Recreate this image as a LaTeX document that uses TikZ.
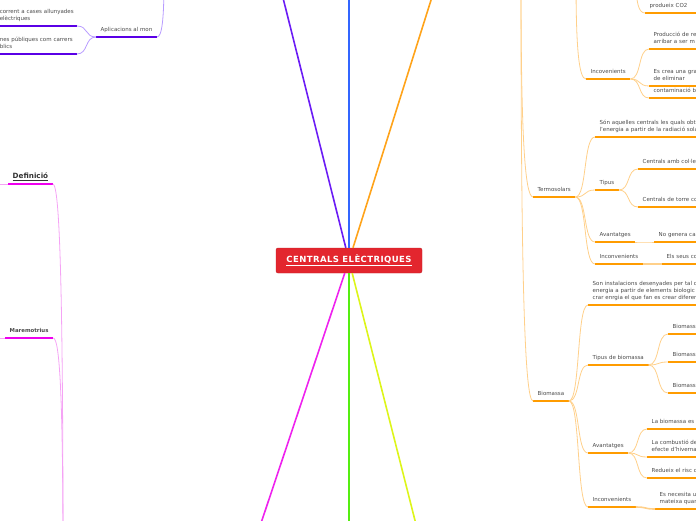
\documentclass[tikz,border=0pt]{standalone}
\usepackage{fontspec}
\setmainfont{DejaVu Sans}
\usetikzlibrary{calc}

\definecolor{txt}{HTML}{4A4A4A}
\definecolor{redc}{HTML}{E3262E}
\definecolor{vio}{HTML}{6B1CF5}
\definecolor{vioL}{HTML}{B89CFF}
\definecolor{vioB}{HTML}{5A00E6}
\definecolor{blu}{HTML}{3366FF}
\definecolor{ora}{HTML}{FFA31A}
\definecolor{oraL}{HTML}{FFD08A}
\definecolor{oraB}{HTML}{FF9C00}
\definecolor{mag}{HTML}{EE22EE}
\definecolor{magL}{HTML}{F5A3F5}
\definecolor{magB}{HTML}{EE00EE}
\definecolor{grn}{HTML}{55EE11}
\definecolor{ylw}{HTML}{DDF51A}

\begin{document}
\begin{tikzpicture}[x=1pt, y=-1pt,
    every node/.style={font=\fontsize{5.5}{7}\selectfont, text=txt},
    topic/.style={anchor=south west, inner xsep=4.5pt, inner ysep=5pt, text depth=0pt,
        append after command={(\tikzlastnode.south west) edge[draw=#1, line width=2.2pt] (\tikzlastnode.south east)}},
    leaf/.style={topic=#1, text depth={}, inner ysep=3pt, text width=200pt, align=left, execute at end node={\strut}},
    lleaf/.style={leaf=#1, anchor=south east, text width=76pt, inner xsep=1pt},
    main/.style={draw=#1, line width=1.6pt},
    branch/.style={draw=#1, line width=0.8pt,
        to path={.. controls ($(\tikztostart)!0.6!(\tikztotarget|-\tikztostart)$) and ($(\tikztotarget)!0.6!(\tikztostart|-\tikztotarget)$) .. (\tikztotarget)}},
    stem/.style={draw=#1, line width=0.8pt,
        to path={.. controls ($(\tikztostart)!0.7!(\tikztostart|-\tikztotarget)$) and ($(\tikztotarget)!0.7!(\tikztostart|-\tikztotarget)$) .. (\tikztotarget)}}]

    \useasboundingbox (0,0) rectangle (696,520);
    \clip (0,0) rectangle (696,520);

    % Centre
    \node[draw=redc!85!black, fill=redc, rounded corners=2pt, minimum width=146pt, minimum height=25pt,
        text=white, font=\fontsize{8.5}{10}\selectfont\bfseries\addfontfeature{LetterSpace=5}]
        (ce) at (349,260.5) {\underline{CENTRALS ELÈCTRIQUES}};

    % Main branches (hubs lie outside the picture)
    \coordinate (hvio) at (276,-30);
    \coordinate (hblu) at (349,-30);
    \coordinate (hora) at (440.5,-30);
    \coordinate (hmag) at (252,550);
    \coordinate (hgrn) at (349,550);
    \coordinate (hylw) at (422.5,550);
    \draw[main=vio] (ce) -- (hvio);
    \draw[main=blu] (ce) -- (hblu);
    \draw[main=ora] (ce) -- (hora);
    \draw[main=mag] (ce) -- (hmag);
    \draw[main=grn] (ce) -- (hgrn);
    \draw[main=ylw] (ce) -- (hylw);

    % Violet: aplicacions
    \node[topic=vioB] (apl) at (96,37) {Aplicacions al mon};
    \node[lleaf=vioB] (apl1) at (77,26) {corrent a cases allunyades\\elèctriques};
    \node[lleaf=vioB] (apl2) at (77,54) {nes públiques com carrers\\blics};
    \coordinate (hapl) at (164,-20);
    \draw[stem=vioL] (hapl) to (apl.south east);
    \draw[branch=vioL] (apl.south west) to (apl1.south east);
    \draw[branch=vioL] (apl.south west) to (apl2.south east);

    % Magenta: definicio, maremotrius
    \node[topic=magB, font=\fontsize{7.2}{8}\selectfont\bfseries, text=black!80] (def) at (8,184) {\underline{Definició}};
    \node[topic=magB, font=\fontsize{5.4}{7}\selectfont\bfseries] (mare) at (5,338) {Maremotrius};
    \coordinate (hdef) at (63,560);
    \coordinate (defl) at (-10,184);
    \coordinate (marel) at (-10,338);
    \draw[stem=magL] (hdef) to (def.south east);
    \draw[stem=magL] (hdef) to (mare.south east);
    \draw[magL, line width=0.8pt] (def.south west) -- (defl);
    \draw[magL, line width=0.8pt] (mare.south west) -- (marel);

    % Orange: top part
    \node[leaf=oraB] (avt1) at (645,13) {No afavoreixen\\produeix CO2};
    \node[topic=oraB] (inc) at (586,79) {Incovenients};
    \node[leaf=oraB] (inc1) at (649,49) {Producció de re\\arribar a ser m};
    \node[leaf=oraB] (inc2) at (649,86) {Es crea una gra\\de eliminar};
    \node[leaf=oraB] (inc3) at (649,98) {contaminació bi};
    \coordinate (havt) at (636,-20);
    \coordinate (hinc) at (576,-20);
    \draw[stem=oraL] (havt) to (avt1.south west);
    \draw[stem=oraL] (hinc) to (inc.south west);
    \draw[branch=oraL] (inc.south east) to (inc1.south west);
    \draw[branch=oraL] (inc.south east) to (inc2.south west);
    \draw[branch=oraL] (inc.south east) to (inc3.south west);

    % Orange: termosolars
    \node[topic=oraB] (tsol) at (533,197) {Termosolars};
    \node[leaf=oraB] (tsdef) at (595,137) {Són aquelles centrals les quals obte\\l'energia a partir de la radiació sola};
    \node[topic=oraB] (tstip) at (595,190) {Tipus};
    \node[leaf=oraB] (tscol) at (638,169) {Centrals amb col·le};
    \node[leaf=oraB] (tstor) at (638,207) {Centrals de torre co};
    \node[topic=oraB] (tsav) at (595,242) {Avantatges};
    \node[leaf=oraB] (tsav1) at (654,242) {No genera cap};
    \node[topic=oraB] (tsinc) at (595,264) {Inconvenients};
    \node[leaf=oraB] (tsinc1) at (662,264) {Els seus co};
    \draw[branch=oraL] (tsol.south east) to (tsdef.south west);
    \draw[branch=oraL] (tsol.south east) to (tstip.south west);
    \draw[branch=oraL] (tsol.south east) to (tsav.south west);
    \draw[branch=oraL] (tsol.south east) to (tsinc.south west);
    \draw[branch=oraL] (tstip.south east) to (tscol.south west);
    \draw[branch=oraL] (tstip.south east) to (tstor.south west);
    \draw[branch=oraL] (tsav.south east) to (tsav1.south west);
    \draw[branch=oraL, line width=1.6pt] (tsinc.south east) to (tsinc1.south west);

    % Orange: biomassa
    \node[topic=oraB] (bio) at (533,401) {Biomassa};
    \node[leaf=oraB] (biodef) at (588,305) {Son instalacions desenyades per tal d\\energia a partir de elements biologic\\crar enrgia el que fan es crear diferer};
    \node[topic=oraB] (biotip) at (588,365) {Tipus de biomassa};
    \node[leaf=oraB] (biot1) at (668,334) {Biomassa};
    \node[leaf=oraB] (biot2) at (668,362) {Biomassa};
    \node[leaf=oraB] (biot3) at (668,393) {Biomassa};
    \node[topic=oraB] (bioav) at (588,453) {Avantatges};
    \node[leaf=oraB] (bioav1) at (647,429) {La biomassa es};
    \node[leaf=oraB] (bioav2) at (647,457) {La combustió de\\efecte d'hivernac};
    \node[leaf=oraB] (bioav3) at (647,478) {Redueix el risc d};
    \node[topic=oraB] (bioinc) at (588,507) {Inconvenients};
    \node[leaf=oraB] (bioinc1) at (655,509) {Es necesita u\\mateixa quan};
    \draw[branch=oraL] (bio.south east) to (biodef.south west);
    \draw[branch=oraL] (bio.south east) to (biotip.south west);
    \draw[branch=oraL] (bio.south east) to (bioav.south west);
    \draw[branch=oraL] (bio.south east) to (bioinc.south west);
    \draw[branch=oraL] (biotip.south east) to (biot1.south west);
    \draw[branch=oraL] (biotip.south east) to (biot2.south west);
    \draw[branch=oraL] (biotip.south east) to (biot3.south west);
    \draw[branch=oraL] (bioav.south east) to (bioav1.south west);
    \draw[branch=oraL] (bioav.south east) to (bioav2.south west);
    \draw[branch=oraL] (bioav.south east) to (bioav3.south west);
    \draw[branch=oraL, line width=1.6pt] (bioinc.south east) to (bioinc1.south west);

    % Orange trunk
    \coordinate (htrunk) at (521,-20);
    \draw[stem=oraL] (htrunk) to (tsol.south west);
    \draw[stem=oraL] (htrunk) to (bio.south west);
\end{tikzpicture}
\end{document}
